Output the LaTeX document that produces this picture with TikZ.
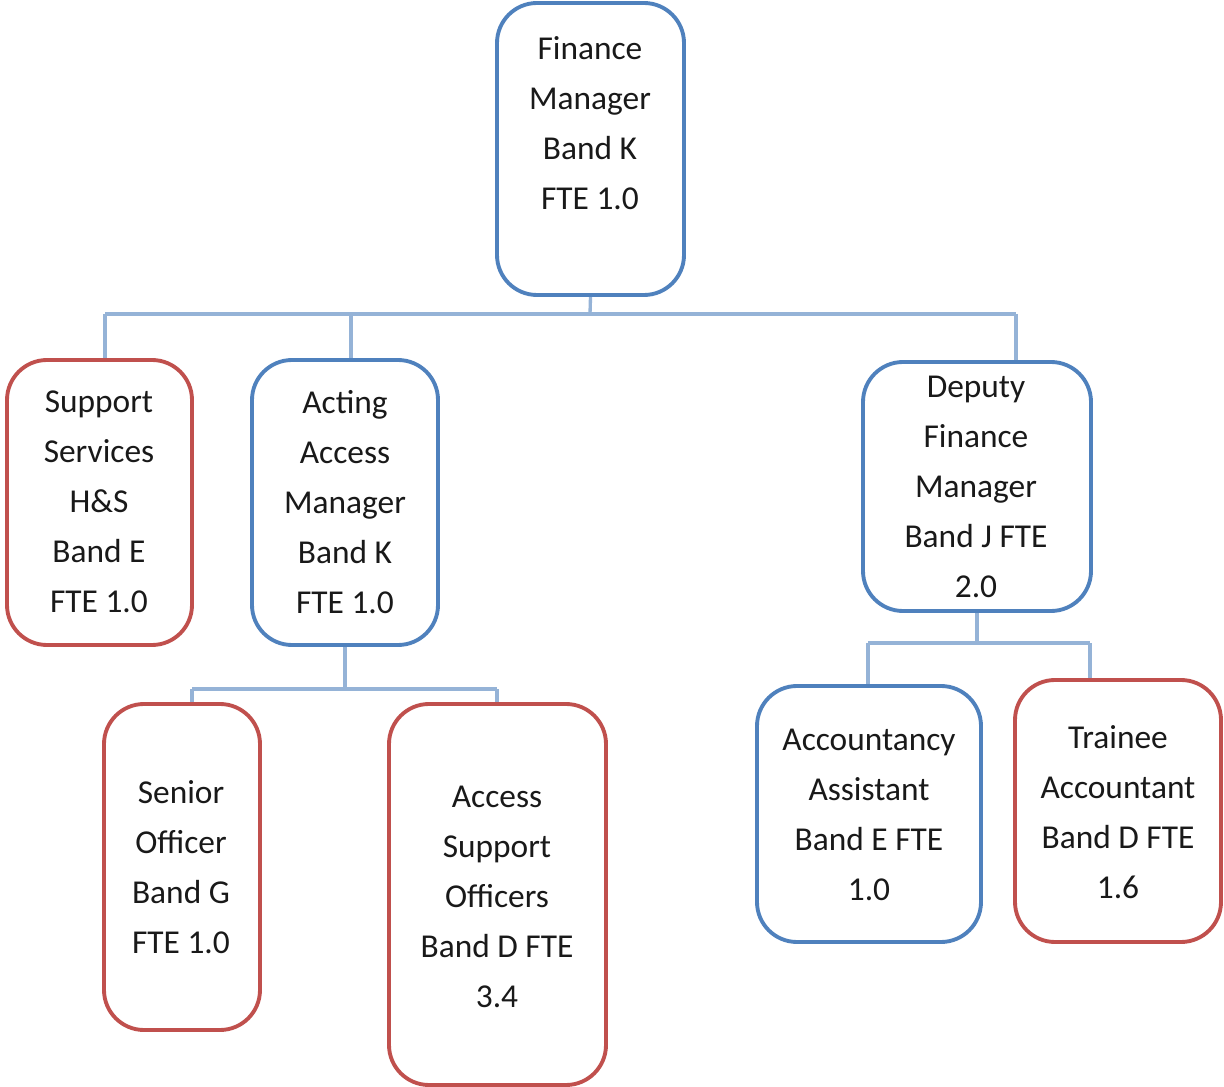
\documentclass[tikz,border=0pt]{standalone}
\usepackage{fontspec}
\setmainfont{Carlito}
\usetikzlibrary{fit}
\definecolor{boxblue}{HTML}{4F81BD}
\definecolor{boxred}{HTML}{C0504D}
\definecolor{connblue}{HTML}{95B3D7}
\pgfdeclarelayer{bg}
\pgfsetlayers{bg,main}
\tikzset{
  box/.style={draw, rounded corners=0.8cm, line width=2.2pt, fill=white, inner sep=0pt},
  bluebox/.style={box, draw=boxblue},
  redbox/.style={box, draw=boxred},
  lbl/.style={font=\fontsize{19}{28.45}\selectfont, align=center, inner sep=0pt, text=black!90},
  conn/.style={draw=connblue, line width=1.9pt}
}
\begin{document}
\begin{tikzpicture}[x=0.02cm,y=-0.02cm]
\useasboundingbox (0,0) rectangle (1224,1087);
% boxes
\node[bluebox, fit={(497,3)(684,295)}] (fm) {};
\node[redbox,  fit={(7,360)(192,645)}] (ss) {};
\node[bluebox, fit={(252,360)(438,645)}] (aam) {};
\node[bluebox, fit={(863,362)(1091,611)}] (dfm) {};
\node[redbox,  fit={(104,704)(260,1030)}] (so) {};
\node[redbox,  fit={(389,704)(606,1085)}] (aso) {};
\node[bluebox, fit={(757,686)(981,942)}] (aa) {};
\node[redbox,  fit={(1015,680)(1221,942)}] (ta) {};
% texts
\node[lbl] (tfm) at (590,123) {Finance\\Manager\\Band K\\FTE 1.0};
\node[lbl] (tss) at (99,502) {Support\\Services\\H\&S\\Band E\\FTE 1.0};
\node[lbl] (taam) at (345,502) {Acting\\Access\\Manager\\Band K\\FTE 1.0};
\node[lbl] (tdfm) at (976,487) {Deputy\\Finance\\Manager\\Band J FTE\\2.0};
\node[lbl] (tso) at (181,867) {Senior\\Officer\\Band G\\FTE 1.0};
\node[lbl] (taso) at (497,897) {Access\\Support\\Officers\\Band D FTE\\3.4};
\node[lbl] (taa) at (869,815) {Accountancy\\Assistant\\Band E FTE\\1.0};
\node[lbl] (tta) at (1118,812) {Trainee\\Accountant\\Band D FTE\\1.6};
% connectors
\coordinate (j1) at (590,314);
\coordinate (d1) at (105,314);
\coordinate (d2) at (351,314);
\coordinate (d3) at (1016,314);
\coordinate (j2) at (345,689);
\coordinate (d4) at (192,689);
\coordinate (d5) at (497,689);
\coordinate (j3) at (977,643);
\coordinate (d6) at (868,643);
\coordinate (d7) at (1090,643);
\begin{pgfonlayer}{bg}
\draw[conn] (fm.south) -- (j1);
\draw[conn] (d1) -- (d3);
\draw[conn] (d1) -- (ss.north -| d1);
\draw[conn] (d2) -- (aam.north -| d2);
\draw[conn] (d3) -- (dfm.north -| d3);
\draw[conn] (aam.south -| j2) -- (j2);
\draw[conn] (d4) -- (d5);
\draw[conn] (d4) -- (so.north -| d4);
\draw[conn] (d5) -- (aso.north -| d5);
\draw[conn] (dfm.south -| j3) -- (j3);
\draw[conn] (d6) -- (d7);
\draw[conn] (d6) -- (aa.north -| d6);
\draw[conn] (d7) -- (ta.north -| d7);
\end{pgfonlayer}
\end{tikzpicture}
\end{document}
